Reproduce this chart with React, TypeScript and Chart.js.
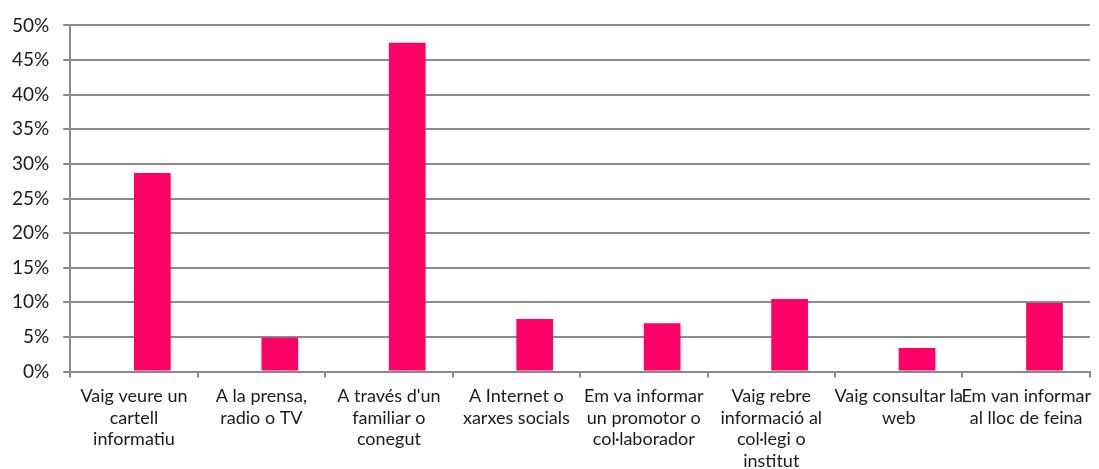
import React, { useEffect, useRef } from "react";
import { Chart, registerables } from "chart.js";

Chart.register(...registerables);

const categories: string[][] = [
  ["Vaig veure un", "cartell", "informatiu"],
  ["A la prensa,", "radio o TV"],
  ["A través d'un", "familiar o", "conegut"],
  ["A Internet o", "xarxes socials"],
  ["Em va informar", "un promotor o", "col·laborador"],
  ["Vaig rebre", "informació al", "col·legi o", "institut"],
  ["Vaig consultar la", "web"],
  ["Em van informar", "al lloc de feina"],
];

const emptySeries: (number | null)[] = [null, null, null, null, null, null, null, null];
const values: number[] = [28.7, 4.9, 47.5, 7.6, 7.0, 10.5, 3.4, 9.9];

const yTicks = { min: 0, max: 50, step: 5 };

const FONT = "Lato, 'Open Sans', sans-serif";

export default function App() {
  const ref = useRef<HTMLCanvasElement | null>(null);

  useEffect(() => {
    document.body.style.margin = "0";
    const canvas = ref.current;
    if (!canvas) return;
    const chart = new Chart(canvas, {
      type: "bar",
      data: {
        labels: categories,
        datasets: [
          {
            data: emptySeries,
            backgroundColor: "rgba(0,0,0,0)",
          },
          {
            data: values,
            backgroundColor: "#FF0066",
            borderWidth: 0,
          },
        ],
      },
      options: {
        animation: false,
        responsive: false,
        devicePixelRatio: 1,
        layout: { padding: { left: -2, right: 1, top: 16, bottom: -11 } },
        plugins: {
          legend: { display: false },
          tooltip: { enabled: false },
        },
        datasets: {
          bar: { categoryPercentage: 0.576, barPercentage: 1 },
        },
        scales: {
          x: {
            grid: {
              offset: true,
              drawOnChartArea: false,
              color: "#8a8a8a",
              lineWidth: 2,
              tickLength: 6,
            },
            border: { color: "#8a8a8a", width: 2 },
            ticks: {
              autoSkip: false,
              maxRotation: 0,
              minRotation: 0,
              padding: 8,
              color: "#1a1a1a",
              font: { family: FONT, size: 18, lineHeight: 1.2 },
            },
          },
          y: {
            min: yTicks.min,
            max: yTicks.max,
            grid: {
              color: "#8a8a8a",
              lineWidth: 2,
              tickLength: 7,
            },
            border: { color: "#8a8a8a", width: 2 },
            ticks: {
              stepSize: yTicks.step,
              padding: 14,
              color: "#1a1a1a",
              font: { family: FONT, size: 19 },
              callback: (v: any) => `${v}%`,
            },
          },
        },
      },
    });
    return () => chart.destroy();
  }, []);

  return (
    <div style={{ width: 1099, height: 469 }}>
      <canvas ref={ref} width={1099} height={469} style={{ display: "block" }} />
    </div>
  );
}
